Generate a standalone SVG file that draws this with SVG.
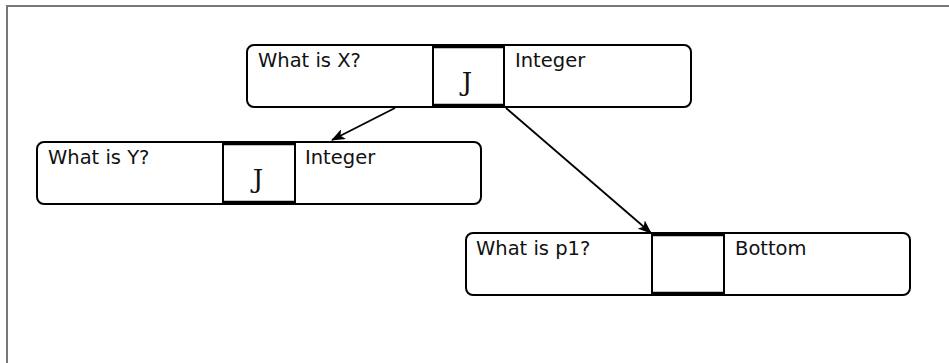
<svg xmlns="http://www.w3.org/2000/svg" width="949" height="363" viewBox="0 0 949 363">
  <style>
    .frame { stroke: #777; stroke-width: 2; fill: none; }
    .card { fill: #fff; stroke: #000; stroke-width: 2; }
    .slot { fill: #fff; stroke: #000; stroke-width: 2; }
    .edge { stroke: #000; stroke-width: 3.5; }
    .lbl { font-family: "DejaVu Sans", sans-serif; font-size: 19.5px; fill: #111; }
    .val { font-family: "DejaVu Serif", "Liberation Serif", serif; font-size: 26px; fill: #111; text-anchor: middle; }
    .link { stroke: #000; stroke-width: 1.8; fill: none; marker-end: url(#arrow); }
  </style>
  <defs>
    <marker id="arrow" viewBox="0 0 14 11" refX="13" refY="5.5" markerWidth="14" markerHeight="11" markerUnits="userSpaceOnUse" orient="auto">
      <path d="M0,0 L14,5.5 L0,11 L3.5,5.5 Z" fill="#000"/>
    </marker>
  </defs>
  <rect width="949" height="363" fill="#fff"/>
  <path class="frame" d="M7,363 V6 H949"/>

  <g id="node-x">
    <rect class="card" x="247" y="45" width="444" height="62" rx="7"/>
    <rect class="slot" x="433" y="46" width="71" height="60"/>
    <line class="edge" x1="433" y1="46.5" x2="504" y2="46.5"/>
    <line class="edge" x1="433" y1="105.5" x2="504" y2="105.5"/>
    <text class="lbl" x="258" y="67">What is X?</text>
    <text class="val" x="467" y="91">J</text>
    <text class="lbl" x="515" y="67">Integer</text>
  </g>

  <g id="node-y">
    <rect class="card" x="37" y="142" width="444" height="62" rx="7"/>
    <rect class="slot" x="223" y="143" width="72" height="60"/>
    <line class="edge" x1="223" y1="143.5" x2="295" y2="143.5"/>
    <line class="edge" x1="223" y1="202.5" x2="295" y2="202.5"/>
    <text class="lbl" x="48" y="164">What is Y?</text>
    <text class="val" x="258" y="188">J</text>
    <text class="lbl" x="305" y="164">Integer</text>
  </g>

  <g id="node-p1">
    <rect class="card" x="466" y="233" width="444" height="62" rx="7"/>
    <rect class="slot" x="652" y="234" width="72" height="60"/>
    <line class="edge" x1="652" y1="234.5" x2="724" y2="234.5"/>
    <line class="edge" x1="652" y1="293.5" x2="724" y2="293.5"/>
    <text class="lbl" x="476" y="255">What is p1?</text>
    <text class="lbl" x="735" y="255">Bottom</text>
  </g>

  <g id="connectors">
    <line class="link" x1="395" y1="108" x2="332" y2="140"/>
    <line class="link" x1="506" y1="108" x2="651" y2="233"/>
  </g>
</svg>
